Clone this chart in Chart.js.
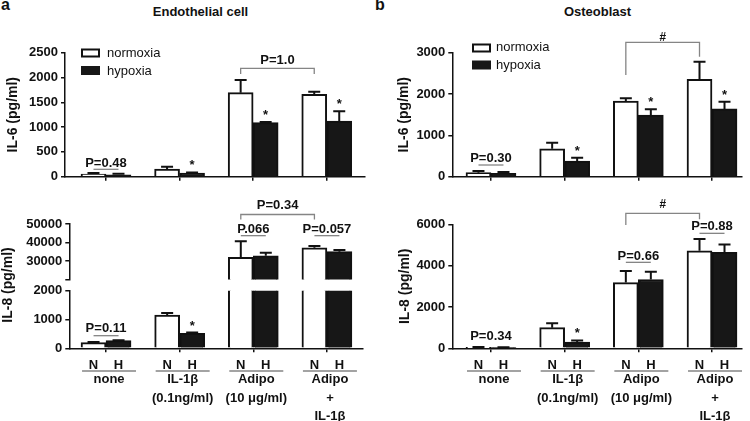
<!DOCTYPE html>
<html>
<head>
<meta charset="utf-8">
<script src="https://cdn.jsdelivr.net/npm/chart.js@4.4.1/dist/chart.umd.min.js"></script>
<style>
  html, body { margin: 0; padding: 0; background: #fff; }
  #fig { position: relative; width: 750px; height: 421px; overflow: hidden; font-family: 'Liberation Sans', Arial, sans-serif; color: #111; }
  #fig canvas { position: absolute; left: 0; top: 0; }
  .lbl { position: absolute; font-weight: bold; white-space: nowrap; }
  .panel { font-size: 16px; line-height: 17px; top: -4px; }
  .head { font-size: 13px; line-height: 15px; top: 4px; text-align: center; }
</style>
</head>
<body>
<div id="fig">
  <div class="lbl panel" style="left:1px">a</div>
  <div class="lbl head" style="left:120px;width:161px">Endothelial cell</div>
  <div class="lbl panel" style="left:375px">b</div>
  <div class="lbl head" style="left:517px;width:161px">Osteoblast</div>
  <canvas id="endoIL6" width="750" height="421"></canvas>
  <canvas id="endoIL8Top" width="750" height="421"></canvas>
  <canvas id="endoIL8Low" width="750" height="421"></canvas>
  <canvas id="osteoIL6" width="750" height="421"></canvas>
  <canvas id="osteoIL8" width="750" height="421"></canvas>
</div>
<script>
// groups on the x axis
const groupPos = [1, 2, 3, 4];
const groupLabels = [['none'], ['IL-1β', '(0.1ng/ml)'], ['Adipo', '(10 μg/ml)'], ['Adipo', '+', 'IL-1β']];
const barLabels = ['N', 'H'];
const seriesNames = ['normoxia', 'hypoxia'];

// a: endothelial cell, IL-6 (pg/ml)
const endoIL6Norm = [54, 155, 1695, 1660];
const endoIL6NormErr = [20, 45, 255, 55];
const endoIL6Hyp = [40, 74, 1090, 1122];
const endoIL6HypErr = [20, 13, 12, 200];
// a: endothelial cell, IL-8 (pg/ml), broken axis
const endoIL8Norm = [195, 1150, 31950, 37100];
const endoIL8NormErr = [20, 80, 8650, 1000];
const endoIL8Hyp = [264, 517, 32800, 35000];
const endoIL8HypErr = [15, 30, 1600, 900];
// b: osteoblast, IL-6 (pg/ml)
const osteoIL6Norm = [97, 677, 1831, 2357];
const osteoIL6NormErr = [40, 146, 65, 425];
const osteoIL6Hyp = [80, 379, 1492, 1640];
const osteoIL6HypErr = [33, 81, 137, 175];
// b: osteoblast, IL-8 (pg/ml)
const osteoIL8Norm = [50, 1000, 3180, 4720];
const osteoIL8NormErr = [10, 210, 560, 570];
const osteoIL8Hyp = [40, 300, 3330, 4640];
const osteoIL8HypErr = [10, 80, 380, 380];

const FONT = "'Liberation Sans', Arial, sans-serif";
const INK = '#111';
const GREY = '#858585';

Chart.defaults.font.family = FONT;
Chart.defaults.font.weight = 'bold';
Chart.defaults.font.size = 13;
Chart.defaults.color = INK;

const decorators = {};

// one-sided (upward) error bars, clipped to the plot area
function drawErrorBars(chart) {
  const { ctx, chartArea: a } = chart;
  ctx.save();
  ctx.beginPath();
  ctx.rect(a.left, a.top - 1, a.right - a.left, a.bottom - a.top + 1);
  ctx.clip();
  ctx.strokeStyle = INK;
  ctx.lineWidth = 2;
  chart.data.datasets.forEach((ds, di) => {
    const meta = chart.getDatasetMeta(di);
    const ys = chart.scales[meta.yAxisID];
    meta.data.forEach((bar, i) => {
      const top = ys.getPixelForValue(ds.data[i]);
      const tip = ys.getPixelForValue(ds.data[i] + ds.errors[i]);
      ctx.beginPath();
      ctx.moveTo(bar.x, top);
      ctx.lineTo(bar.x, tip);
      ctx.moveTo(bar.x - 6, tip);
      ctx.lineTo(bar.x + 6, tip);
      ctx.stroke();
    });
  });
  ctx.restore();
}

const extras = {
  id: 'extras',
  afterDatasetsDraw(chart) { drawErrorBars(chart); },
  afterDraw(chart) {
    const fn = decorators[chart.canvas.id];
    if (fn) {
      chart.ctx.save();
      fn(chart, chart.ctx);
      chart.ctx.restore();
    }
  }
};

function barX(chart, di, i) {
  return chart.getDatasetMeta(di).data[i].x;
}

function text(ctx, s, x, y, font) {
  ctx.font = font || 'bold 13px ' + FONT;
  ctx.fillStyle = INK;
  ctx.textAlign = 'center';
  ctx.textBaseline = 'middle';
  ctx.fillText(s, x, y);
}

function hline(ctx, x0, x1, y) {
  ctx.strokeStyle = GREY;
  ctx.lineWidth = 1.3;
  ctx.beginPath();
  ctx.moveTo(x0, y);
  ctx.lineTo(x1, y);
  ctx.stroke();
}

// asterisk above the hypoxia bar of a group
function star(chart, ctx, gi) {
  const ds = chart.data.datasets[1];
  const y = chart.scales.y.getPixelForValue(ds.data[gi] + ds.errors[gi]);
  ctx.font = 'bold 13px ' + FONT;
  ctx.fillStyle = INK;
  ctx.textAlign = 'center';
  ctx.textBaseline = 'alphabetic';
  ctx.fillText('*', barX(chart, 1, gi), y - 3);
}

// N vs H comparison inside a group
function pLine(chart, ctx, gi, label, lineVal, textVal) {
  const ys = chart.scales.y;
  const x0 = barX(chart, 0, gi), x1 = barX(chart, 1, gi);
  if (lineVal !== null) hline(ctx, x0, x1, ys.getPixelForValue(lineVal));
  text(ctx, label, (x0 + x1) / 2, ys.getPixelForValue(textVal));
}

// bracket between the normoxia bars of two groups
function bracket(chart, ctx, g1, g2, topVal, leg1Val, leg2Val, label, textVal, font) {
  const ys = chart.scales.y;
  const x0 = barX(chart, 0, g1), x1 = barX(chart, 0, g2);
  const yt = ys.getPixelForValue(topVal);
  ctx.strokeStyle = GREY;
  ctx.lineWidth = 1.3;
  ctx.beginPath();
  ctx.moveTo(x0, ys.getPixelForValue(leg1Val));
  ctx.lineTo(x0, yt);
  ctx.lineTo(x1, yt);
  ctx.lineTo(x1, ys.getPixelForValue(leg2Val));
  ctx.stroke();
  text(ctx, label, (x0 + x1) / 2, ys.getPixelForValue(textVal), font);
}

function legendBox(ctx, x, y0, y1, textX, t0, t1) {
  ctx.lineWidth = 2;
  ctx.strokeStyle = INK;
  ctx.fillStyle = '#fff';
  ctx.fillRect(x, y0, 19, 9);
  ctx.strokeRect(x + 1, y0 + 1, 17, 7);
  ctx.fillStyle = '#171717';
  ctx.fillRect(x, y1, 19, 9);
  ctx.font = '13px ' + FONT;
  ctx.fillStyle = INK;
  ctx.textAlign = 'left';
  ctx.textBaseline = 'middle';
  ctx.fillText(seriesNames[0], textX, t0);
  ctx.fillText(seriesNames[1], textX, t1);
}

function xLabels(chart, ctx) {
  const xs = chart.scales.x;
  groupPos.forEach((g, i) => {
    barLabels.forEach((b, di) => text(ctx, b, barX(chart, di, i), 365));
    const cx = xs.getPixelForValue(g) + 3;
    hline(ctx, cx - 27, cx + 27, 371);
    groupLabels[i].forEach((s, li) => text(ctx, s, cx, 379.5 + li * 18.5));
  });
}

function makePanel(id, cfg) {
  const titleLH = 14 * 1.2;
  const yWidth = cfg.area.left - (cfg.titleX - titleLH / 2);
  const xH = cfg.showX ? 4 : 0;
  return new Chart(document.getElementById(id), {
    type: 'bar',
    data: {
      labels: groupPos,
      datasets: [
        { label: seriesNames[0], data: cfg.norm, errors: cfg.normErr, backgroundColor: '#fff',
          borderColor: INK, borderWidth: 2, borderSkipped: 'bottom', barThickness: 25, clip: 0 },
        { label: seriesNames[1], data: cfg.hyp, errors: cfg.hypErr, backgroundColor: '#171717',
          borderColor: INK, borderWidth: 2, borderSkipped: 'bottom', barThickness: 25, clip: 0 }
      ]
    },
    options: {
      responsive: false,
      animation: false,
      events: [],
      layout: {
        autoPadding: false,
        padding: {
          left: cfg.area.left - yWidth,
          top: cfg.area.top,
          right: 750 - cfg.area.right,
          bottom: 421 - cfg.area.bottom - xH
        }
      },
      plugins: { legend: { display: false }, tooltip: { enabled: false } },
      scales: {
        x: {
          type: 'linear',
          min: cfg.xMin,
          max: cfg.xMax,
          offset: false,
          afterBuildTicks: s => { s.ticks = groupPos.map(v => ({ value: v })); },
          afterFit: s => { s.height = xH; },
          grid: { display: cfg.showX, offset: false, drawOnChartArea: false, tickLength: 4, color: INK, lineWidth: 1.5 },
          border: { display: cfg.showX, color: INK, width: 1.5 },
          ticks: { display: false }
        },
        y: {
          min: cfg.yMin,
          max: cfg.yMax,
          afterFit: s => { s.width = yWidth; },
          grid: { drawOnChartArea: false, tickLength: 4, color: INK, lineWidth: 1.5 },
          border: { color: INK, width: 1.5 },
          ticks: {
            stepSize: cfg.yStep,
            autoSkip: false,
            padding: 3,
            font: { size: 13, weight: 'bold' },
            callback: v => (cfg.hideTick === v ? '' : String(v))
          },
          title: {
            display: !!cfg.yTitle,
            text: cfg.yTitle || '',
            font: { size: 14, weight: 'bold' },
            padding: 0
          }
        }
      }
    },
    plugins: [extras]
  });
}

// ---- a: endothelial cell ----
decorators.endoIL6 = (chart, ctx) => {
  legendBox(ctx, 81, 48.5, 66, 107, 53, 71);
  pLine(chart, ctx, 0, 'P=0.48', 149, 270);
  [1, 2, 3].forEach(g => star(chart, ctx, g));
  bracket(chart, ctx, 2, 3, 2185, 2070, 2070, 'P=1.0', 2353);
};
makePanel('endoIL6', {
  area: { left: 65, top: 52.7, right: 365, bottom: 176.7 },
  titleX: 13, yTitle: 'IL-6 (pg/ml)', showX: true,
  xMin: 0.443, xMax: 4.52, yMin: 0, yMax: 2500, yStep: 500,
  norm: endoIL6Norm, normErr: endoIL6NormErr, hyp: endoIL6Hyp, hypErr: endoIL6HypErr
});

decorators.endoIL8Top = (chart, ctx) => {
  pLine(chart, ctx, 2, 'P.066', 43680, 47300);
  pLine(chart, ctx, 3, 'P=0.057', 43680, 47300);
  bracket(chart, ctx, 2, 3, 55140, 52430, 52430, 'P=0.34', 60270);
};
makePanel('endoIL8Top', {
  area: { left: 69.3, top: 224, right: 363, bottom: 279.4 },
  titleX: 8.3, yTitle: null, showX: false,
  xMin: 0.501, xMax: 4.49, yMin: 20000, yMax: 50000, yStep: 10000, hideTick: 20000,
  norm: endoIL8Norm, normErr: endoIL8NormErr, hyp: endoIL8Hyp, hypErr: endoIL8HypErr
});

decorators.endoIL8Low = (chart, ctx) => {
  ctx.save();
  ctx.translate(8.3, 285);
  ctx.rotate(-Math.PI / 2);
  text(ctx, 'IL-8 (pg/ml)', 0, 0, 'bold 14px ' + FONT);
  ctx.restore();
  pLine(chart, ctx, 0, 'P=0.11', 438, 695);
  star(chart, ctx, 1);
  xLabels(chart, ctx);
};
makePanel('endoIL8Low', {
  area: { left: 69.3, top: 290.7, right: 363, bottom: 348.3 },
  titleX: 8.3, yTitle: null, showX: true,
  xMin: 0.501, xMax: 4.49, yMin: 0, yMax: 2000, yStep: 1000,
  norm: endoIL8Norm, normErr: endoIL8NormErr, hyp: endoIL8Hyp, hypErr: endoIL8HypErr
});

// ---- b: osteoblast ----
decorators.osteoIL6 = (chart, ctx) => {
  legendBox(ctx, 472, 43.5, 60.5, 496, 47.5, 65);
  pLine(chart, ctx, 0, 'P=0.30', 283, 445);
  [1, 2, 3].forEach(g => star(chart, ctx, g));
  bracket(chart, ctx, 2, 3, 3252, 2461, 2903, '#', 3373, 'bold italic 12px ' + FONT);
};
makePanel('osteoIL6', {
  area: { left: 452.3, top: 52.7, right: 741.7, bottom: 176.7 },
  titleX: 404.3, yTitle: 'IL-6 (pg/ml)', showX: true,
  xMin: 0.475, xMax: 4.403, yMin: 0, yMax: 3000, yStep: 1000,
  norm: osteoIL6Norm, normErr: osteoIL6NormErr, hyp: osteoIL6Hyp, hypErr: osteoIL6HypErr
});

decorators.osteoIL8 = (chart, ctx) => {
  pLine(chart, ctx, 0, 'P=0.34', null, 561);
  star(chart, ctx, 1);
  pLine(chart, ctx, 2, 'P=0.66', 4160, 4432);
  pLine(chart, ctx, 3, 'P=0.88', 5563, 5883);
  bracket(chart, ctx, 2, 3, 6531, 5965, 6241, '#', 6933, 'bold italic 12px ' + FONT);
  xLabels(chart, ctx);
};
makePanel('osteoIL8', {
  area: { left: 452.3, top: 224.3, right: 741.7, bottom: 348.3 },
  titleX: 405, yTitle: 'IL-8 (pg/ml)', showX: true,
  xMin: 0.475, xMax: 4.403, yMin: 0, yMax: 6000, yStep: 2000,
  norm: osteoIL8Norm, normErr: osteoIL8NormErr, hyp: osteoIL8Hyp, hypErr: osteoIL8HypErr
});
</script>
</body>
</html>
